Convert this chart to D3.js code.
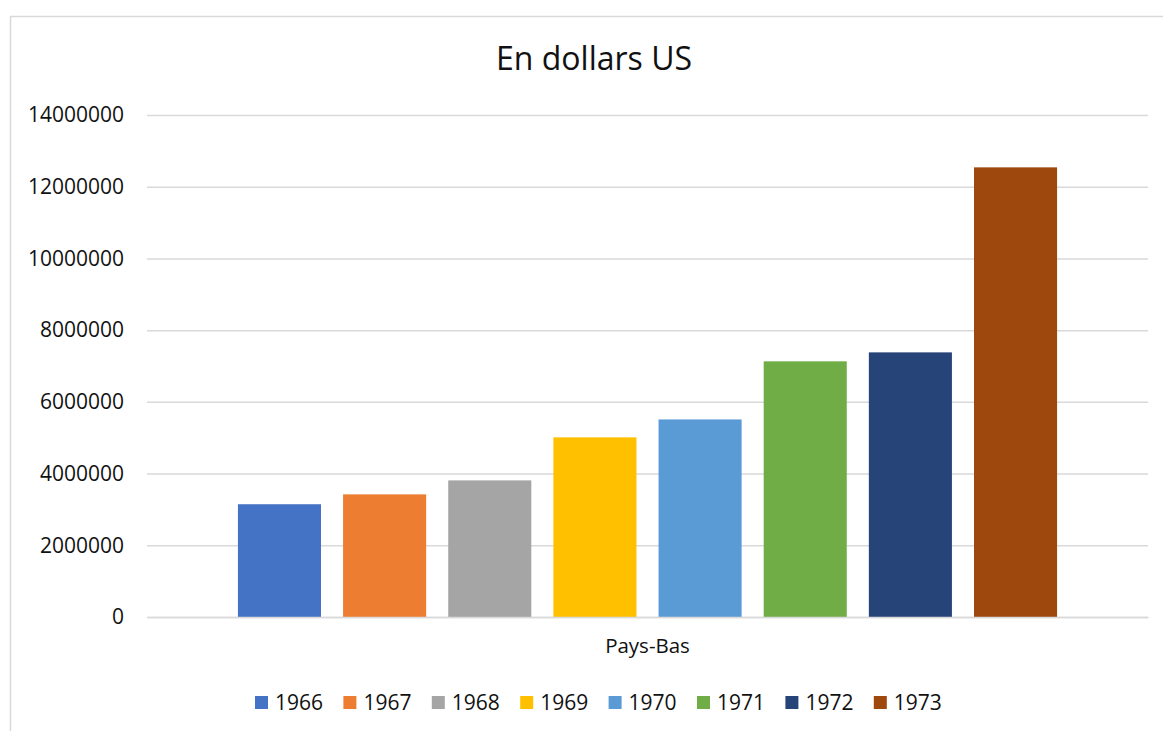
<!DOCTYPE html>
<html>
<head>
<meta charset="utf-8">
<script src="https://cdn.jsdelivr.net/npm/d3@7"></script>
<style>
  body { margin: 0; background: #fff; }
  text { font-family: "Open Sans", sans-serif; fill: #111; }
</style>
</head>
<body>
<svg></svg>
<script>
var categories = ["Pays-Bas"];
var years = ["1966", "1967", "1968", "1969", "1970", "1971", "1972", "1973"];
var values = [3145000, 3420000, 3810000, 5010000, 5510000, 7130000, 7380000, 12540000];
var colors = ["#4472c4", "#ed7d31", "#a5a5a5", "#ffc000", "#5b9bd5", "#70ad47", "#264478", "#9e480e"];
var yTicks = [0, 2000000, 4000000, 6000000, 8000000, 10000000, 12000000, 14000000];

var viewWidth = 1163;
var viewHeight = 731;

var margin = {top: 115, right: 15, bottom: 114, left: 147};
var width = viewWidth - margin.left - margin.right;
var height = viewHeight - margin.top - margin.bottom;

var svg = d3.select("svg")
    .attr("width", viewWidth)
    .attr("height", viewHeight);

// chart frame (cut off on the right and bottom like the picture)
svg.append("path")
  .attr("d", "M10.5," + viewHeight + "V16.5H" + viewWidth)
  .attr("fill", "none")
  .attr("stroke", "#d9d9d9")
  .attr("stroke-width", 1.5);

svg.append("text")
  .attr("x", 594)
  .attr("y", 70)
  .attr("text-anchor", "middle")
  .style("font-size", "32px")
  .text("En dollars US");

var g = svg.append("g")
  .attr("transform", "translate(" + margin.left + "," + margin.top + ")");

var x0 = d3.scaleBand().domain(categories).range([0, width]).paddingOuter(0.111);
var x1 = d3.scaleBand().domain(years).range([0, x0.bandwidth()]).paddingInner(0.21);
var y = d3.scaleLinear().domain([0, 14000000]).range([height, 0]);

var yAxis = d3.axisLeft(y)
  .tickValues(yTicks)
  .tickSize(-width)
  .tickPadding(23)
  .tickFormat(d3.format("d"));

g.append("g")
  .call(yAxis)
  .call(function(a) {
    a.select(".domain").remove();
    a.selectAll(".tick line").attr("stroke", "#d9d9d9").attr("stroke-width", 1.5);
    a.selectAll(".tick text").style("font-size", "21px").attr("fill", "#111");
  });

var groups = g.selectAll(".cat")
  .data(categories)
  .enter().append("g")
  .attr("transform", function(d) { return "translate(" + x0(d) + ",0)"; });

groups.selectAll("rect")
  .data(years.map(function(yr, i) { return {year: yr, value: values[i], color: colors[i]}; }))
  .enter().append("rect")
  .attr("x", function(d) { return x1(d.year); })
  .attr("width", x1.bandwidth())
  .attr("y", function(d) { return y(d.value); })
  .attr("height", function(d) { return height - y(d.value); })
  .attr("fill", function(d) { return d.color; });

var xAxis = d3.axisBottom(x0).tickSize(0).tickPadding(21);
g.append("g")
  .attr("transform", "translate(0," + height + ")")
  .call(xAxis)
  .call(function(a) {
    a.select(".domain").attr("stroke", "#d9d9d9").attr("stroke-width", 1.5);
    a.selectAll(".tick text").style("font-size", "20.5px").attr("fill", "#111");
  });

// legend
var legend = svg.append("g")
  .attr("transform", "translate(255,696)");
var items = legend.selectAll(".item")
  .data(years)
  .enter().append("g")
  .attr("transform", function(d, i) { return "translate(" + (i * 88.4) + ",0)"; });
items.append("rect")
  .attr("width", 13)
  .attr("height", 13)
  .attr("fill", function(d, i) { return colors[i]; });
items.append("text")
  .attr("x", 20)
  .attr("y", 14)
  .style("font-size", "21px")
  .text(function(d) { return d; });
</script>
</body>
</html>
